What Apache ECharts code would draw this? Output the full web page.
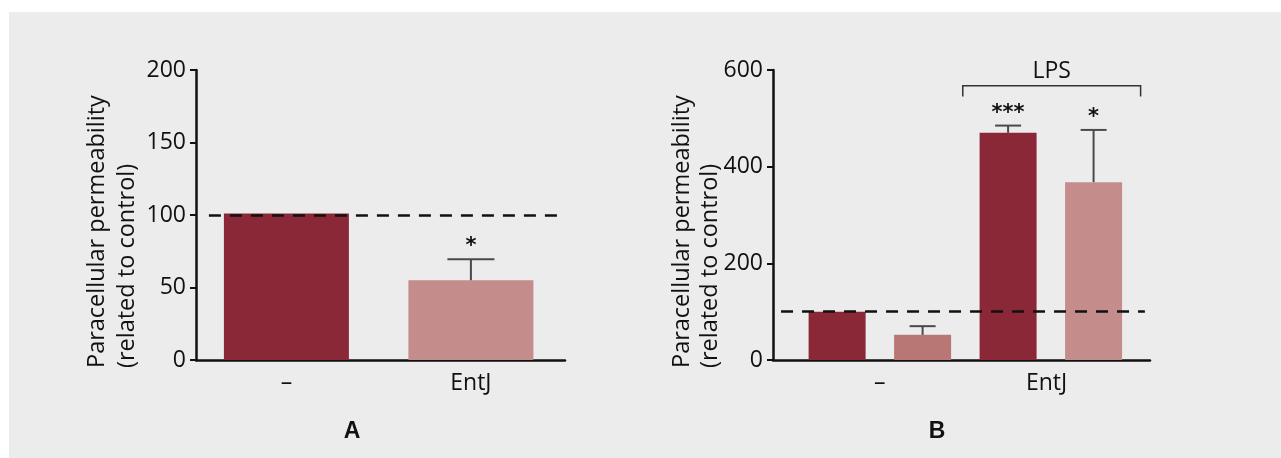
<!DOCTYPE html>
<html><head><meta charset="utf-8">
<script src="https://cdn.jsdelivr.net/npm/echarts@6/dist/echarts.min.js"></script>
<style>html,body{margin:0;padding:0;background:#fff}#c{width:1281px;height:458px}</style>
</head><body><div id="c"></div>
<script>
// Panel A
const catA = ['–', 'EntJ'];
const xA = [1, 2];
const meanA = [101, 55];
const errA = [0, 14.5];
const sigA = ['', '*'];
const colorA = ['#8a2838', '#c48d8b'];
// Panel B
const catB = ['–', 'EntJ'];
const catBPos = [1.5, 3.45];
const xB = [1, 2, 3, 4];
const meanB = [100, 52, 470, 368];
const errB = [0, 18, 15, 108];
const sigB = ['', '', '***', '*'];
const colorB = ['#8a2838', '#b87775', '#8a2838', '#c48d8b'];
const ticksA = [0, 50, 100, 150, 200];
const ticksB = [0, 200, 400, 600];
const refLine = 100;

const font = 'Open Sans';
const ink = '#111';

function yAxis(gi, max, interval) {
  return {
    type: 'value', gridIndex: gi, min: 0, max: max, interval: interval,
    axisLine: {show: true, lineStyle: {color: ink, width: 2.5}},
    axisTick: {show: true, length: 6, lineStyle: {color: ink, width: 2}},
    axisLabel: {color: ink, fontFamily: font, fontSize: 23, margin: 10},
    splitLine: {show: false}
  };
}
function xAxis(gi, min, max, labels, pos) {
  return {
    type: 'value', gridIndex: gi, min: min, max: max,
    axisLine: {show: true, onZero: false, lineStyle: {color: ink, width: 2.5}},
    axisTick: {show: false},
    splitLine: {show: false},
    axisLabel: {
      customValues: pos, color: ink, fontFamily: font, fontSize: 23, margin: 12,
      formatter: function (v) { const i = pos.indexOf(v); return i >= 0 ? labels[i] : ''; }
    }
  };
}
function bars(gi, xs, means, colors, bw, line) {
  return {
    type: 'bar', xAxisIndex: gi, yAxisIndex: gi, barWidth: bw,
    data: xs.map((x, i) => ({value: [x, means[i]], itemStyle: {color: colors[i]}})),
    markLine: {
      silent: true, symbol: 'none', label: {show: false},
      lineStyle: {color: ink, width: 2.5, type: [12, 9]},
      data: [[{coord: [line[0], refLine]}, {coord: [line[1], refLine]}]]
    },
    animation: false
  };
}
function errors(gi, xs, means, errs, sigs, capW) {
  return {
    type: 'custom', xAxisIndex: gi, yAxisIndex: gi, animation: false, z: 5,
    data: xs.map((x, i) => [x, means[i], errs[i], i]),
    renderItem: function (params, api) {
      const x = api.value(0), m = api.value(1), e = api.value(2), i = api.value(3);
      const children = [];
      const top = api.coord([x, m + e]);
      const base = api.coord([x, m]);
      if (e > 0) {
        children.push({type: 'line', shape: {x1: base[0], y1: base[1], x2: top[0], y2: top[1]}, style: {stroke: '#4a4a4a', lineWidth: 2}});
        children.push({type: 'line', shape: {x1: top[0] - capW / 2, y1: top[1], x2: top[0] + capW / 2, y2: top[1]}, style: {stroke: '#4a4a4a', lineWidth: 2}});
      }
      if (sigs[i]) {
        children.push({type: 'text', style: {text: sigs[i], x: top[0], y: top[1] - 2, align: 'center', verticalAlign: 'bottom', fontFamily: 'DejaVu Sans', fontWeight: 'bold', fontSize: 21, fill: ink}});
      }
      return {type: 'group', children: children};
    }
  };
}

const chart = echarts.init(document.getElementById('c'), null, {renderer: 'canvas'});
chart.setOption({
  backgroundColor: '#ffffff',
  animation: false,
  grid: [
    {left: 196, top: 70, width: 369, height: 290},
    {left: 773, top: 70, width: 377, height: 290}
  ],
  xAxis: [xAxis(0, 0.51, 2.51, catA, xA), xAxis(1, 0.25, 4.66, catB, catBPos)],
  yAxis: [yAxis(0, 200, 50), yAxis(1, 600, 200)],
  series: [
    bars(0, xA, meanA, colorA, 125, [0.58, 2.494]),
    errors(0, xA, meanA, errA, sigA, 47),
    bars(1, xB, meanB, colorB, 57, [0.344, 4.60]),
    errors(1, xB, meanB, errB, sigB, 26),
    {
      type: 'custom', xAxisIndex: 1, yAxisIndex: 1, animation: false, z: 5,
      data: [[2.47, 4.55, 545, 567.5]],
      renderItem: function (params, api) {
        const a = api.coord([api.value(0), api.value(2)]);
        const b = api.coord([api.value(0), api.value(3)]);
        const c = api.coord([api.value(1), api.value(3)]);
        const d = api.coord([api.value(1), api.value(2)]);
        return {type: 'group', children: [
          {type: 'polyline', shape: {points: [a, b, c, d]}, style: {stroke: '#333', lineWidth: 1.5, fill: null}},
          {type: 'text', style: {text: 'LPS', x: (b[0] + c[0]) / 2, y: b[1] - 14, align: 'center', verticalAlign: 'middle', fontFamily: font, fontSize: 23, fill: ink}}
        ]};
      }
    }
  ],
  graphic: [
    {type: 'rect', z: -10, shape: {x: 9, y: 12, width: 1272, height: 446}, style: {fill: '#ececec'}},
    {type: 'text', x: 97, y: 368, rotation: Math.PI / 2, style: {text: 'Paracellular permeability', align: 'left', verticalAlign: 'middle', fontFamily: font, fontSize: 23.5, fill: ink}},
    {type: 'text', x: 127, y: 368, rotation: Math.PI / 2, style: {text: '(related to control)', align: 'left', verticalAlign: 'middle', fontFamily: font, fontSize: 23.5, fill: ink}},
    {type: 'text', x: 682, y: 368, rotation: Math.PI / 2, style: {text: 'Paracellular permeability', align: 'left', verticalAlign: 'middle', fontFamily: font, fontSize: 23.5, fill: ink}},
    {type: 'text', x: 710, y: 368, rotation: Math.PI / 2, style: {text: '(related to control)', align: 'left', verticalAlign: 'middle', fontFamily: font, fontSize: 23.5, fill: ink}},
    {type: 'text', x: 352, y: 432, style: {text: 'A', align: 'center', verticalAlign: 'middle', fontFamily: 'Liberation Sans', fontWeight: 'bold', fontSize: 23, fill: ink}},
    {type: 'text', x: 937, y: 432, style: {text: 'B', align: 'center', verticalAlign: 'middle', fontFamily: 'Liberation Sans', fontWeight: 'bold', fontSize: 23, fill: ink}}
  ]
});
</script></body></html>
